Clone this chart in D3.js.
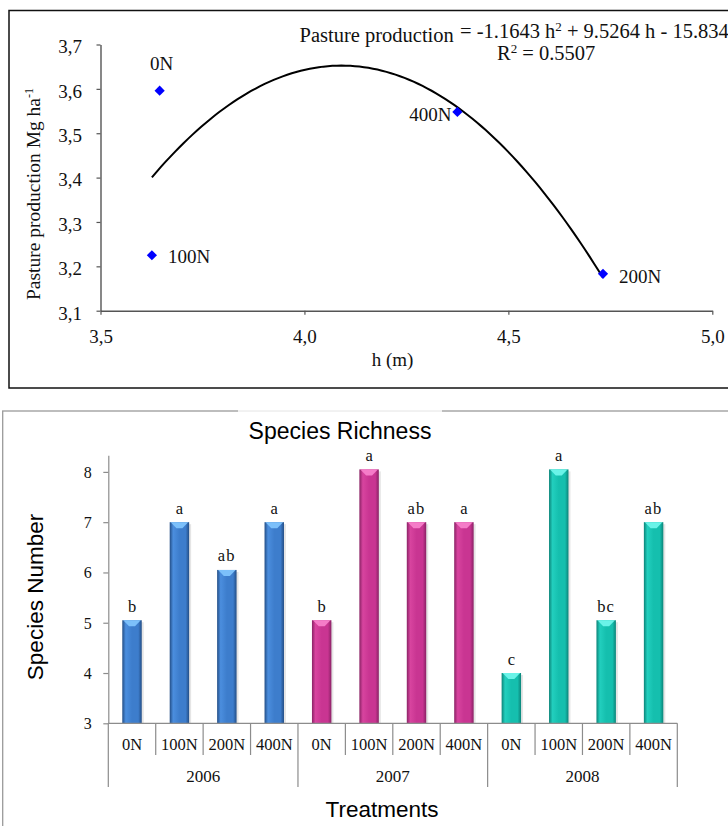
<!DOCTYPE html>
<html><head><meta charset="utf-8">
<script src="https://cdn.jsdelivr.net/npm/d3@7"></script>
<style>body{margin:0;background:#fff} svg{display:block}</style>
</head><body><svg id="c" width="728" height="826"></svg>
<script>
// ---------- Data: top scatter ----------
const pointLabels = ["0N", "100N", "200N", "400N"];
const heightH = [3.645, 3.626, 4.732, 4.375];
const production = [3.596, 3.225, 3.183, 3.548];
const trendCoef = [-1.1643, 9.5264, -15.834]; // a h^2 + b h + c
const topXTicks = [3.5, 4.0, 4.5, 5.0];
const topYTicks = [3.1, 3.2, 3.3, 3.4, 3.5, 3.6, 3.7];

// ---------- Data: bottom bars ----------
const years = ["2006", "2007", "2008"];
const treatments = ["0N", "100N", "200N", "400N"];
const richness2006 = [5.05, 7.0, 6.05, 7.0];
const richness2007 = [5.05, 8.05, 7.0, 7.0];
const richness2008 = [4.0, 8.05, 5.05, 7.0];
const letters2006 = ["b", "a", "ab", "a"];
const letters2007 = ["b", "a", "ab", "a"];
const letters2008 = ["c", "a", "bc", "ab"];
const bottomYTicks = [3, 4, 5, 6, 7, 8];

const SERIF = "'Liberation Serif','Times New Roman',serif";
const SANS = "'Liberation Sans',Arial,sans-serif";
const svg = d3.select("#c");
const comma = d => d3.format(".1f")(d).replace(".", ",");

// ================= TOP CHART =================
svg.append("rect").attr("x", 9).attr("y", 10.5).attr("width", 760).attr("height", 377.5)
  .attr("fill", "none").attr("stroke", "#111").attr("stroke-width", 1.5);

const xT = d3.scaleLinear().domain([3.5, 5.0]).range([100.5, 712.3]);
const yT = d3.scaleLinear().domain([3.1, 3.7]).range([310.7, 44.5]);

const gx = svg.append("g").attr("transform", "translate(0,310.7)")
  .call(d3.axisBottom(xT).tickValues(topXTicks).tickSize(4).tickSizeOuter(0).tickFormat(comma));
gx.selectAll("text").attr("y", 32.5).attr("dy", 0)
  .style("font-family", SERIF).style("font-size", "19px").attr("fill", "#111");
const gy = svg.append("g").attr("transform", "translate(100.5,0)")
  .call(d3.axisLeft(yT).tickValues(topYTicks).tickSize(4).tickSizeOuter(0).tickFormat(comma));
gy.selectAll("text").attr("x", -18.5).attr("dy", 0).attr("y", 8.3)
  .style("font-family", SERIF).style("font-size", "19px").attr("fill", "#111");
[gx, gy].forEach(g => {
  g.select(".domain").attr("stroke", "#555").attr("stroke-width", 1.4);
  g.selectAll(".tick line").attr("stroke", "#555").attr("stroke-width", 1.2);
});

// trendline from displayed coefficients
const hMin = d3.min(heightH), hMax = d3.max(heightH);
const trendPts = d3.range(0, 101).map(i => {
  const h = hMin + (hMax - hMin) * i / 100;
  return [h, trendCoef[0] * h * h + trendCoef[1] * h + trendCoef[2]];
});
svg.append("path").attr("d", d3.line().x(d => xT(d[0])).y(d => yT(d[1]))(trendPts))
  .attr("fill", "none").attr("stroke", "#000").attr("stroke-width", 2);

// points
const pts = pointLabels.map((l, i) => ({ l, h: heightH[i], p: production[i] }));
svg.selectAll(".pt").data(pts).join("path")
  .attr("d", d3.symbol(d3.symbolSquare, 52))
  .attr("transform", d => `translate(${xT(d.h)},${yT(d.p)}) rotate(45)`)
  .attr("fill", "#0000ff");

const labelPlace = { "0N": [2, -21, "middle"], "100N": [16, 8, "start"], "400N": [-6, 9.5, "end"], "200N": [16, 9, "start"] };
svg.selectAll(".pl").data(pts).join("text")
  .attr("x", d => xT(d.h) + labelPlace[d.l][0])
  .attr("y", d => yT(d.p) + labelPlace[d.l][1])
  .attr("text-anchor", d => labelPlace[d.l][2])
  .style("font-family", SERIF).style("font-size", "19px").attr("fill", "#111")
  .text(d => d.l);

// axis titles
svg.append("text").attr("x", 392.5).attr("y", 366).attr("text-anchor", "middle")
  .style("font-family", SERIF).style("font-size", "19px").attr("fill", "#111").text("h (m)");
const yl = svg.append("text").attr("transform", "translate(39.5,300) rotate(-90)")
  .style("font-family", SERIF).style("font-size", "19.5px").attr("fill", "#111");
yl.append("tspan").text("Pasture production Mg ha");
yl.append("tspan").attr("dy", -7).style("font-size", "12px").text("-1");

// equation
svg.append("text").attr("x", 299.5).attr("y", 41.5)
  .style("font-family", SERIF).style("font-size", "20.5px").attr("fill", "#111").text("Pasture production");
const eq = svg.append("text").attr("x", 460).attr("y", 38)
  .style("font-family", SERIF).style("font-size", "20.5px").attr("fill", "#111");
eq.append("tspan").text(`= ${trendCoef[0]} h`);
eq.append("tspan").attr("dy", -7).style("font-size", "13px").text("2");
eq.append("tspan").attr("dy", 7).text(` + ${trendCoef[1]} h - ${Math.abs(trendCoef[2])}`);
const r2 = svg.append("text").attr("x", 497).attr("y", 60)
  .style("font-family", SERIF).style("font-size", "20.5px").attr("fill", "#111");
r2.append("tspan").text("R");
r2.append("tspan").attr("dy", -7).style("font-size", "13px").text("2");
r2.append("tspan").attr("dy", 7).text(" = 0.5507");

// ================= BOTTOM CHART =================
svg.append("rect").attr("x", 2.7).attr("y", 411).attr("width", 800).attr("height", 500)
  .attr("fill", "none").attr("stroke", "#9a9a9a").attr("stroke-width", 1.3);
svg.append("line").attr("x1", 238).attr("x2", 442).attr("y1", 411).attr("y2", 411)
  .attr("stroke", "#fff").attr("stroke-width", 2);
svg.append("line").attr("x1", 238).attr("x2", 442).attr("y1", 411).attr("y2", 411)
  .attr("stroke", "#e4e4e4").attr("stroke-width", 1);

const byYear = [richness2006, richness2007, richness2008];
const lettersByYear = [letters2006, letters2007, letters2008];
const rows = years.flatMap((yr, gi) => treatments.map((t, j) => ({
  key: yr + "-" + t, yr, t, gi, v: byYear[gi][j], letter: lettersByYear[gi][j]
})));

const xB = d3.scaleBand().domain(rows.map(d => d.key)).range([108.3, 677.3]).padding(0);
const yB = d3.scaleLinear().domain([3, 8.33]).range([723.3, 455.3]);
const bw = xB.bandwidth() * 0.41;

const pal = [
  { dark: "#234e86", mid: "#3d7dcc", light: "#4b8ede", top: "#7cc0fa" },
  { dark: "#8a2265", mid: "#c93592", light: "#d8449f", top: "#f57cc8" },
  { dark: "#0c8479", mid: "#15bfae", light: "#22cfbe", top: "#6af3e8" }
];
const defs = svg.append("defs");
pal.forEach((p, i) => {
  const g = defs.append("linearGradient").attr("id", "g" + i).attr("x1", 0).attr("x2", 1).attr("y1", 0).attr("y2", 0);
  [[0, p.dark], [0.18, p.light], [0.5, p.mid], [0.82, p.mid], [1, p.dark]]
    .forEach(([o, c]) => g.append("stop").attr("offset", o).attr("stop-color", c));
});

// shadows
svg.selectAll(".sh").data(rows).join("rect")
  .attr("x", d => xB(d.key) + xB.bandwidth() / 2 - bw / 2 + 2)
  .attr("y", d => yB(d.v) + 2).attr("width", bw).attr("height", d => yB(3) - yB(d.v) - 2)
  .attr("fill", "#000").attr("opacity", 0.1);
// bars
svg.selectAll(".bar").data(rows).join("rect")
  .attr("x", d => xB(d.key) + xB.bandwidth() / 2 - bw / 2)
  .attr("y", d => yB(d.v)).attr("width", bw).attr("height", d => yB(3) - yB(d.v))
  .attr("fill", d => `url(#g${d.gi})`);
// top bevel
svg.selectAll(".bev").data(rows).join("polygon")
  .attr("points", d => {
    const c = xB(d.key) + xB.bandwidth() / 2, t = yB(d.v);
    return [[c - bw / 2 + 1, t], [c + bw / 2 - 1, t], [c + 3, t + 6], [c - 3, t + 6]].map(p => p.join(",")).join(" ");
  })
  .attr("fill", d => pal[d.gi].top);
// letters
svg.selectAll(".let").data(rows).join("text")
  .attr("x", d => xB(d.key) + xB.bandwidth() / 2)
  .attr("y", d => yB(d.v) - 8.5).attr("text-anchor", "middle")
  .style("font-family", SERIF).style("font-size", "16.5px").style("letter-spacing", d => d.letter.length > 1 ? "1.2px" : "0px")
  .attr("fill", "#111").text(d => d.letter);

// y axis
const gyb = svg.append("g").attr("transform", "translate(108.3,0)")
  .call(d3.axisLeft(yB).tickValues(bottomYTicks).tickSize(5).tickSizeOuter(0).tickFormat(d3.format("d")));
gyb.select(".domain").attr("stroke", "#8c8c8c").attr("stroke-width", 1.2);
gyb.selectAll(".tick line").attr("stroke", "#8c8c8c").attr("stroke-width", 1.2);
gyb.selectAll("text").attr("x", -16.5).attr("dy", 0).attr("y", 5.5)
  .style("font-family", SERIF).style("font-size", "16px").attr("fill", "#111");

// x axis with multi-level categories
svg.append("line").attr("x1", 108.3).attr("x2", 677.3).attr("y1", 723.3).attr("y2", 723.3)
  .attr("stroke", "#8c8c8c").attr("stroke-width", 1.2);
const bounds = d3.range(rows.length + 1);
svg.selectAll(".sep").data(bounds).join("line")
  .attr("x1", i => 108.3 + i * xB.bandwidth()).attr("x2", i => 108.3 + i * xB.bandwidth())
  .attr("y1", 723.3).attr("y2", i => i % treatments.length === 0 ? 787 : 755)
  .attr("stroke", "#8c8c8c").attr("stroke-width", 1.2);
svg.selectAll(".cat").data(rows).join("text")
  .attr("x", d => xB(d.key) + xB.bandwidth() / 2).attr("y", 750).attr("text-anchor", "middle")
  .style("font-family", SERIF).style("font-size", "16.5px").attr("fill", "#111").text(d => d.t);
svg.selectAll(".yr").data(years).join("text")
  .attr("x", (d, i) => 108.3 + (i * 4 + 2) * xB.bandwidth()).attr("y", 782).attr("text-anchor", "middle")
  .style("font-family", SERIF).style("font-size", "17px").attr("fill", "#111").text(d => d);

// titles
svg.append("text").attr("x", 340).attr("y", 438.5).attr("text-anchor", "middle")
  .style("font-family", SANS).style("font-size", "23px").attr("fill", "#000").text("Species Richness");
svg.append("text").attr("x", 382).attr("y", 816.5).attr("text-anchor", "middle")
  .style("font-family", SANS).style("font-size", "22.5px").attr("fill", "#000").text("Treatments");
svg.append("text").attr("transform", "translate(43,597) rotate(-90)").attr("text-anchor", "middle")
  .style("font-family", SANS).style("font-size", "22.5px").attr("fill", "#000").text("Species Number");
</script></body></html>
